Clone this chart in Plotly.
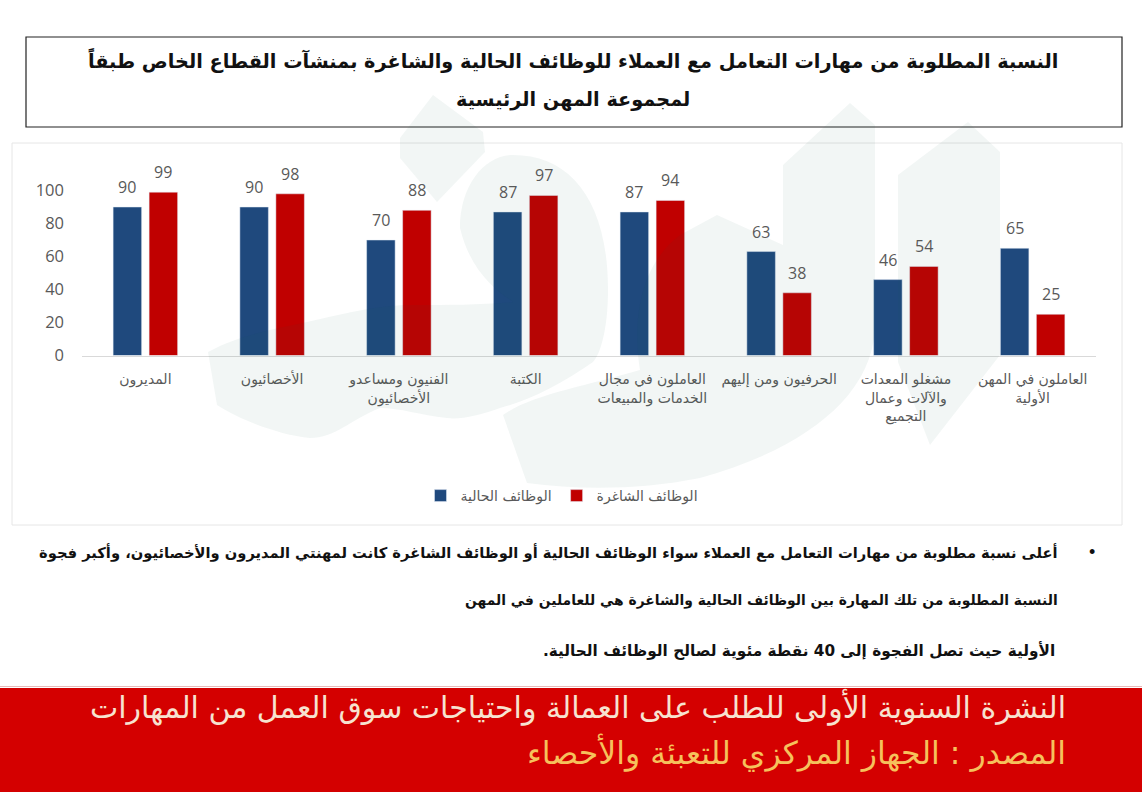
import plotly.graph_objects as go

W, H = 1142, 792
categories = ["المديرون", "الأخصائيون", "الفنيون ومساعدو<br>الأخصائيون", "الكتبة",
              "العاملون في مجال<br>الخدمات والمبيعات", "الحرفيون ومن إليهم",
              "مشغلو المعدات<br>والآلات وعمال<br>التجميع", "العاملون في المهن<br>الأولية"]
current_jobs = [90, 90, 70, 87, 87, 63, 46, 65]
emerging_jobs = [99, 98, 88, 97, 94, 38, 54, 25]
yticks = [0, 20, 40, 60, 80, 100]
title_lines = ["النسبة المطلوبة من مهارات التعامل مع العملاء للوظائف الحالية والشاغرة بمنشآت القطاع الخاص طبقاً",
               "لمجموعة المهن الرئيسية"]
note_lines = ["أعلى نسبة مطلوبة من مهارات التعامل مع العملاء سواء الوظائف الحالية أو الوظائف الشاغرة كانت لمهنتي المديرون والأخصائيون، وأكبر فجوة",
              "النسبة المطلوبة من تلك المهارة بين الوظائف الحالية والشاغرة هي للعاملين في المهن",
              "الأولية حيث تصل الفجوة إلى 40 نقطة مئوية لصالح الوظائف الحالية."]
banner_1 = "النشرة السنوية الأولى للطلب على العمالة واحتياجات سوق العمل من المهارات"
banner_2 = "المصدر : الجهاز المركزي للتعبئة والأحصاء"

AR = "DejaVu Sans"
def px(x): return x / W
def py(y): return 1 - y / H
def wm(d):
    # decorative watermark outline: pixel path -> paper path
    out, is_x = [], True
    for tok in d.split():
        if tok.isalpha():
            out.append(tok); is_x = True
        else:
            v = float(tok)
            out.append(f"{px(v):.5f}" if is_x else f"{py(v):.5f}")
            is_x = not is_x
    return " ".join(out)

watermark_paths = [
    "M 400 138 L 433 95 L 483 132 L 485 152 L 437 202 L 400 158 Z",
    "M 208 352 C 240 335 270 330 307 322 C 350 312 380 305 413 305 C 450 305 480 305 513 302 "
    "C 495 290 470 270 460 228 C 460 185 485 155 513 155 C 570 155 608 200 608 290 "
    "C 608 330 600 355 593 362 C 560 385 530 400 500 408 C 480 415 460 420 447 418 "
    "C 420 415 400 408 380 408 C 350 420 335 438 310 438 C 280 435 240 420 217 405 Z",
    "M 503 415 C 530 395 590 385 640 370 C 632 320 640 265 680 235 L 717 215 L 783 245 "
    "L 783 165 L 850 103 L 875 125 L 875 330 C 870 400 800 450 700 478 C 640 490 580 490 527 483 Z",
    "M 898 175 L 968 122 L 1000 152 L 1000 355 L 930 445 L 898 362 Z",
]

fig = go.Figure()
fig.add_bar(name="الوظائف الحالية", x=categories, y=current_jobs, marker_color="#1f497d",
            cliponaxis=False)
fig.add_bar(name="الوظائف الشاغرة", x=categories, y=emerging_jobs, marker_color="#c00000",
            cliponaxis=False)

shapes = [
    dict(type="rect", xref="paper", yref="paper", x0=px(12), x1=px(1122), y0=py(525), y1=py(143),
         line=dict(color="#e6e6e6", width=1), fillcolor="rgba(0,0,0,0)", layer="below"),
    dict(type="rect", xref="paper", yref="paper", x0=px(26), x1=px(1122), y0=py(127), y1=py(37),
         line=dict(color="#222222", width=1.2), fillcolor="rgba(0,0,0,0)", layer="below"),
    dict(type="rect", xref="paper", yref="paper", x0=0, x1=1, y0=0, y1=py(688),
         line=dict(width=0), fillcolor="#d40000", layer="above"),
    dict(type="line", xref="paper", yref="paper", x0=0, x1=1, y0=py(686.5), y1=py(686.5),
         line=dict(color="#e8b9b9", width=1), layer="above"),
]
for d in watermark_paths:
    shapes.append(dict(type="path", xref="paper", yref="paper", path=wm(d), layer="above",
                       fillcolor="rgba(20,100,70,0.055)", line=dict(width=0)))

annotations = []
def note(x, y, text, size, color, anchor="right", bold=False, family=AR):
    t = "\u200f" + text + "\u200f"
    if bold: t = "<b>" + t + "</b>"
    annotations.append(dict(xref="paper", yref="paper", x=px(x), y=py(y), text=t, showarrow=False,
                            xanchor=anchor, yanchor="middle",
                            font=dict(size=size, color=color, family=family)))

note(573, 61, title_lines[0], 19.3, "#111111", "center", True)
note(573, 99, title_lines[1], 19.3, "#111111", "center", True)
note(1060, 552, note_lines[0], 14.7, "#111111", "right", True)
note(1060, 600, note_lines[1], 13.9, "#111111", "right", True)
note(1057, 650, note_lines[2], 15.3, "#111111", "right", True)
note(1092, 552, "•", 18, "#111111", "center", False, "Liberation Sans")
note(1068, 707, banner_1, 30, "#f7e3d0", "right")
note(1068, 752, banner_2, 31.5, "#f6c15c", "right")

# value labels anchored to the data through the axes
for series, shift in ((current_jobs, -18), (emerging_jobs, 18)):
    for c, v in zip(categories, series):
        annotations.append(dict(xref="x", yref="y", x=c, y=v, text=str(v), showarrow=False,
                                xshift=shift, yshift=7, yanchor="bottom",
                                font=dict(size=16, color="#595959", family="Open Sans")))

fig.update_layout(
    width=W, height=H, autosize=False, paper_bgcolor="white", plot_bgcolor="rgba(0,0,0,0)",
    margin=dict(l=0, r=0, t=0, b=0, autoexpand=False), barmode="group", bargap=0.432, bargroupgap=0.208,
    shapes=shapes, annotations=annotations, showlegend=True,
    legend=dict(orientation="h", x=px(562), y=py(496), xanchor="center", yanchor="middle",
                font=dict(size=14, color="#595959", family=AR),
                bgcolor="rgba(0,0,0,0)"),
    xaxis=dict(domain=[px(82), px(1096)], anchor="y", showline=True, linecolor="#d9d9d9", ticks="",
               ticklabelstandoff=11,
               tickfont=dict(size=14, color="#595959", family=AR), tickangle=0, automargin=False),
    yaxis=dict(domain=[py(355.5), py(190.5)], range=[0, 100], tickvals=yticks, showgrid=False,
               zeroline=False, ticks="", showline=False, ticklabelstandoff=17, automargin=False,
               tickfont=dict(size=16.5, color="#595959", family="Open Sans")),
)
fig.write_html("out.html", config=dict(displayModeBar=False),
               post_script="document.documentElement.style.margin='0';document.body.style.margin='0';")
